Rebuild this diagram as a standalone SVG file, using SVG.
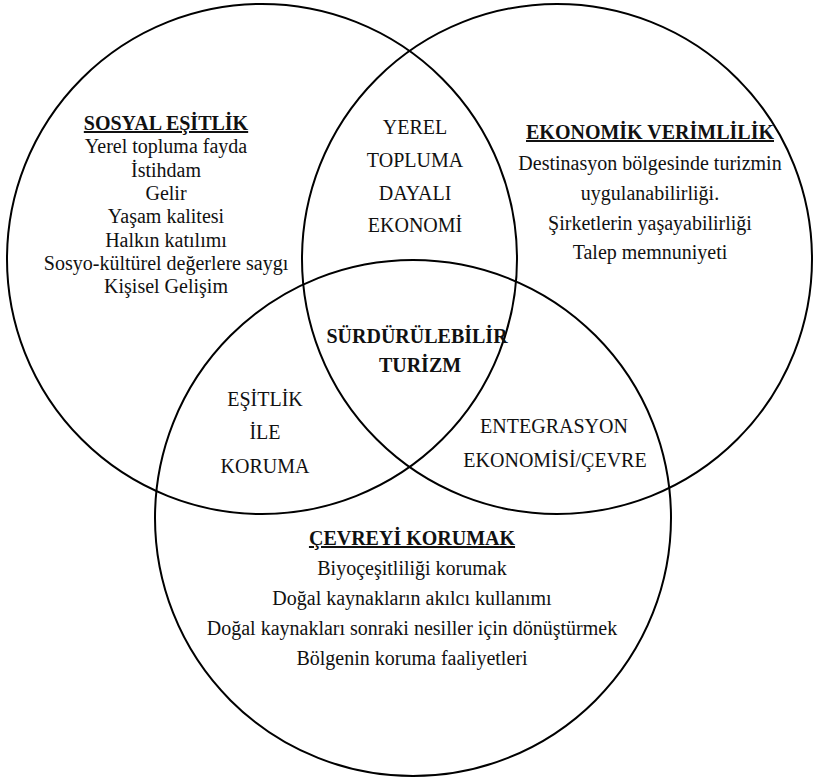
<svg xmlns="http://www.w3.org/2000/svg" width="813" height="779" viewBox="0 0 813 779">
<style>
.c{fill:none;stroke:#000;stroke-width:2}
text{font-family:'Liberation Serif','Times New Roman',serif;font-size:20px;fill:#111;text-anchor:middle}
.b{font-weight:bold}
.u{text-decoration:underline}
</style>
<rect width="813" height="779" fill="#fff"/>
<g id="circle-social"><circle class="c" cx="262" cy="259" r="255"/></g>
<g id="circle-economic"><circle class="c" cx="557" cy="259" r="255"/></g>
<g id="circle-environment"><circle class="c" cx="413" cy="518" r="258"/></g>
<g id="social">
<text x="166" y="130" class="b u">SOSYAL EŞİTLİK</text>
<text x="166" y="153">Yerel topluma fayda</text>
<text x="166" y="177">İstihdam</text>
<text x="166" y="200">Gelir</text>
<text x="166" y="223">Yaşam kalitesi</text>
<text x="166" y="247">Halkın katılımı</text>
<text x="166" y="270">Sosyo-kültürel değerlere saygı</text>
<text x="166" y="293">Kişisel Gelişim</text>
</g>
<g id="economic">
<text x="650" y="139" class="b u">EKONOMİK VERİMLİLİK</text>
<text x="650" y="170">Destinasyon bölgesinde turizmin</text>
<text x="650" y="200">uygulanabilirliği.</text>
<text x="650" y="230">Şirketlerin yaşayabilirliği</text>
<text x="650" y="259">Talep memnuniyeti</text>
</g>
<g id="local-economy">
<text x="415" y="134">YEREL</text>
<text x="415" y="167">TOPLUMA</text>
<text x="415" y="200">DAYALI</text>
<text x="415" y="232">EKONOMİ</text>
</g>
<g id="sustainable">
<text x="417" y="343" class="b">SÜRDÜRÜLEBİLİR</text>
<text x="420" y="372" class="b">TURİZM</text>
</g>
<g id="equity">
<text x="265" y="406">EŞİTLİK</text>
<text x="265" y="439">İLE</text>
<text x="265" y="473">KORUMA</text>
</g>
<g id="integration">
<text x="554" y="433">ENTEGRASYON</text>
<text x="555" y="467">EKONOMİSİ/ÇEVRE</text>
</g>
<g id="environment">
<text x="412" y="545" class="b u">ÇEVREYİ KORUMAK</text>
<text x="412" y="575">Biyoçeşitliliği korumak</text>
<text x="412" y="605">Doğal kaynakların akılcı kullanımı</text>
<text x="412" y="635">Doğal kaynakları sonraki nesiller için dönüştürmek</text>
<text x="412" y="665">Bölgenin koruma faaliyetleri</text>
</g>
<g id="connectors"/>
</svg>
